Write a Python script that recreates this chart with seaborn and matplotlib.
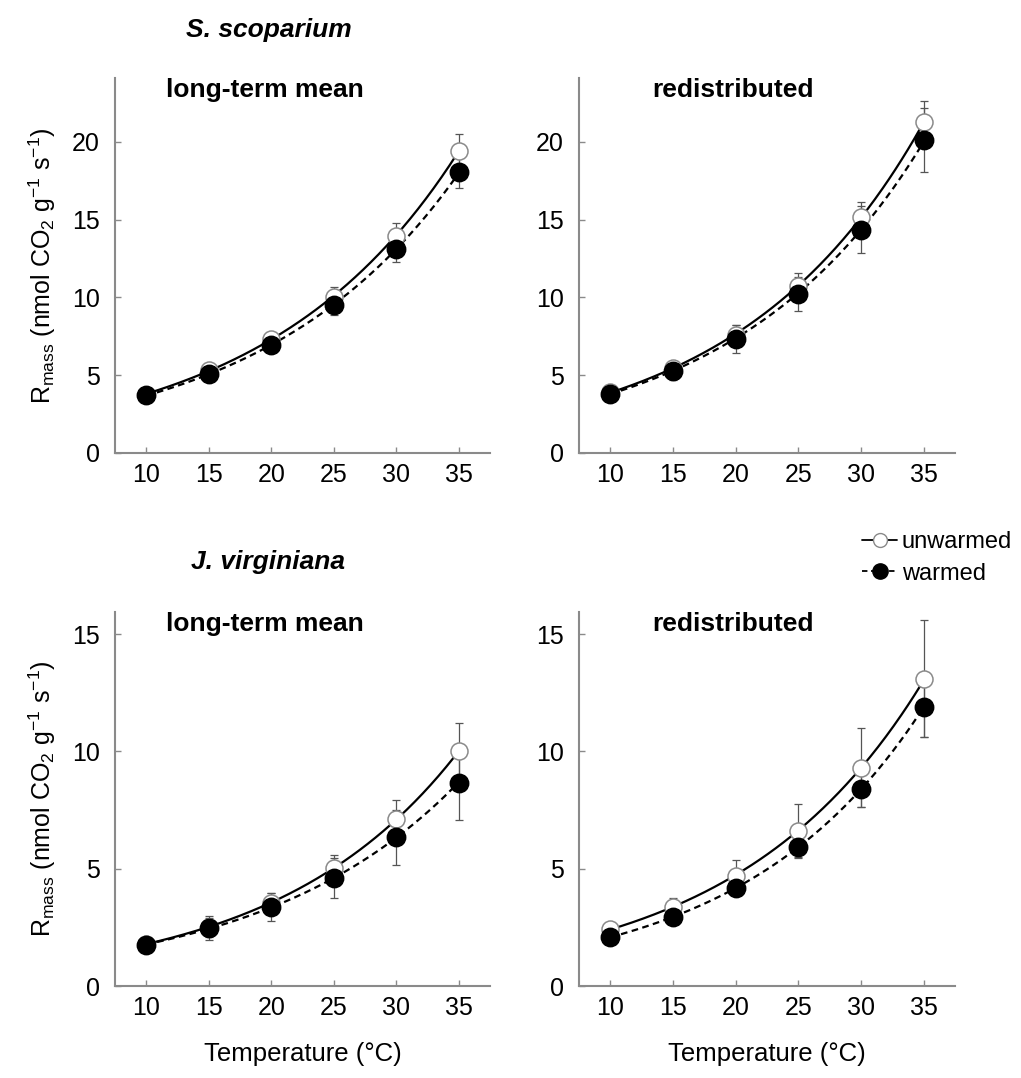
import numpy as np
import pandas as pd
import matplotlib
matplotlib.use("Agg")
import matplotlib.pyplot as plt
from matplotlib.lines import Line2D
import seaborn as sns

# ---------------- data ----------------
temps = [10, 15, 20, 25, 30, 35]

# S. scoparium, long-term mean
ss_ltm_unw = [3.75, 5.35, 7.35, 10.05, 13.95, 19.4]
ss_ltm_unw_se = [0.15, 0.25, 0.4, 0.65, 0.85, 1.1]
ss_ltm_w = [3.7, 5.05, 6.95, 9.5, 13.1, 18.05]
ss_ltm_w_se = [0.15, 0.25, 0.5, 0.6, 0.8, 1.05]

# S. scoparium, redistributed
ss_red_unw = [3.9, 5.45, 7.6, 10.75, 15.15, 21.3]
ss_red_unw_se = [0.3, 0.4, 0.65, 0.8, 1.0, 1.35]
ss_red_w = [3.8, 5.3, 7.35, 10.2, 14.35, 20.1]
ss_red_w_se = [0.3, 0.6, 0.9, 1.1, 1.5, 2.05]

# J. virginiana, long-term mean
jv_ltm_unw = [1.8, 2.5, 3.55, 5.05, 7.1, 10.0]
jv_ltm_unw_se = [0.15, 0.4, 0.4, 0.52, 0.82, 1.2]
jv_ltm_w = [1.75, 2.48, 3.35, 4.6, 6.33, 8.65]
jv_ltm_w_se = [0.15, 0.5, 0.6, 0.85, 1.18, 1.56]

# J. virginiana, redistributed
jv_red_unw = [2.43, 3.37, 4.68, 6.62, 9.3, 13.1]
jv_red_unw_se = [0.2, 0.4, 0.7, 1.15, 1.68, 2.5]
jv_red_w = [2.08, 2.95, 4.16, 5.94, 8.38, 11.88]
jv_red_w_se = [0.15, 0.15, 0.2, 0.43, 0.75, 1.26]

species = ["S. scoparium", "J. virginiana"]
panel_titles = ["long-term mean", "redistributed"]
x_ticks = [10, 15, 20, 25, 30, 35]
y_ticks_top = [0, 5, 10, 15, 20]
y_ticks_bottom = [0, 5, 10, 15]

# ---------------- style ----------------
sns.set_theme(style="ticks")
plt.rcParams['font.family'] = ['Liberation Sans', 'DejaVu Sans']
plt.rcParams['mathtext.fontset'] = 'custom'
plt.rcParams['mathtext.rm'] = 'Liberation Sans'
plt.rcParams['mathtext.it'] = 'Liberation Sans:italic'
plt.rcParams['mathtext.bf'] = 'Liberation Sans:bold'
plt.rcParams['text.color'] = 'black'
plt.rcParams['axes.labelcolor'] = 'black'

W, H = 1021, 1078
fig = plt.figure(figsize=(W / 100, H / 100), dpi=100)

def ax_rect(x0, y0, x1, y1):
    return [x0 / W, 1 - y1 / H, (x1 - x0) / W, (y1 - y0) / H]

rects = [
    ax_rect(115, 78, 490, 453),
    ax_rect(579, 78, 955, 453),
    ax_rect(115, 612, 490, 986),
    ax_rect(579, 612, 955, 986),
]

panels = [
    (ss_ltm_unw, ss_ltm_unw_se, ss_ltm_w, ss_ltm_w_se),
    (ss_red_unw, ss_red_unw_se, ss_red_w, ss_red_w_se),
    (jv_ltm_unw, jv_ltm_unw_se, jv_ltm_w, jv_ltm_w_se),
    (jv_red_unw, jv_red_unw_se, jv_red_w, jv_red_w_se),
]

spine_col = "#8a8a8a"
T = np.array(temps, dtype=float)
tfine = np.linspace(10, 35, 200)
title_frac_x = [0.40, 0.41]

for i, (rect, (unw, unw_se, w, w_se)) in enumerate(zip(rects, panels)):
    ax = fig.add_axes(rect)
    # exponential fits
    for vals, ls in [(unw, "-"), (w, (0, (3, 2)))]:
        b, a = np.polyfit(T, np.log(vals), 1)
        fit = pd.DataFrame({"T": tfine, "R": np.exp(a + b * tfine)})
        sns.lineplot(data=fit, x="T", y="R", ax=ax, color="black",
                     linewidth=1.6, linestyle=ls, zorder=2)
    # error bars
    ax.errorbar(T, unw, yerr=unw_se, fmt="none", ecolor="#555555",
                elinewidth=0.9, capsize=3, capthick=0.9, zorder=1)
    ax.errorbar(T, w, yerr=w_se, fmt="none", ecolor="#555555",
                elinewidth=0.9, capsize=3, capthick=0.9, zorder=1)
    df_u = pd.DataFrame({"T": T, "R": unw})
    df_w = pd.DataFrame({"T": T, "R": w})
    sns.scatterplot(data=df_u, x="T", y="R", ax=ax, s=150, marker="o",
                    facecolor="white", edgecolor="#8a8a8a", linewidth=1.1,
                    zorder=3)
    sns.scatterplot(data=df_w, x="T", y="R", ax=ax, s=175, marker="o",
                    color="black", edgecolor="black", zorder=4)

    ax.set_xlim(7.5, 37.5)
    if i < 2:
        ax.set_ylim(0, 24.1)
        ax.set_yticks(y_ticks_top)
    else:
        ax.set_ylim(0, 15.94)
        ax.set_yticks(y_ticks_bottom)
    ax.set_xticks(x_ticks)
    ax.tick_params(axis="both", direction="in", labelsize=18,
                   colors=spine_col, labelcolor="black", length=4, width=1.0)
    ax.tick_params(axis="x", pad=7)
    ax.tick_params(axis="y", pad=11)
    for s in ["top", "right"]:
        ax.spines[s].set_visible(False)
    for s in ["left", "bottom"]:
        ax.spines[s].set_color(spine_col)
        ax.spines[s].set_linewidth(1.5)
    ax.set_xlabel("")
    ax.set_ylabel("")
    ax.text(title_frac_x[i % 2], 1 - 12 / 375, panel_titles[i % 2],
            transform=ax.transAxes, ha="center", va="center",
            fontsize=19, fontweight="bold", color="black")
    if i % 2 == 0:
        ax.set_ylabel(r"R$_{\rm mass}$ (nmol CO$_2$ g$^{-1}$ s$^{-1}$)",
                      fontsize=18, labelpad=10)
    if i >= 2:
        ax.set_xlabel("Temperature (°C)", fontsize=18.5, labelpad=16)

# species titles
fig.text(269 / W, 1 - 30 / H, species[0], fontsize=19, fontweight="bold",
         fontstyle="italic", ha="center", va="center", color="black")
fig.text(268 / W, 1 - 562 / H, species[1], fontsize=19, fontweight="bold",
         fontstyle="italic", ha="center", va="center", color="black")

# legend
handles = [
    Line2D([0], [0], color="black", lw=1.3, linestyle="-", marker="o",
           markersize=10, markerfacecolor="white", markeredgecolor="#8a8a8a"),
    Line2D([0], [0], color="black", lw=1.3, linestyle=(0, (3, 2)), marker="o",
           markersize=11, markerfacecolor="black", markeredgecolor="black"),
]
fig.legend(handles, ["unwarmed", "warmed"], loc="center left",
           bbox_to_anchor=(850 / W, 1 - 558 / H), frameon=False,
           fontsize=17, handlelength=1.5, handletextpad=0.2,
           labelspacing=0.4, borderpad=0)

fig.savefig("out.png", dpi=100)
